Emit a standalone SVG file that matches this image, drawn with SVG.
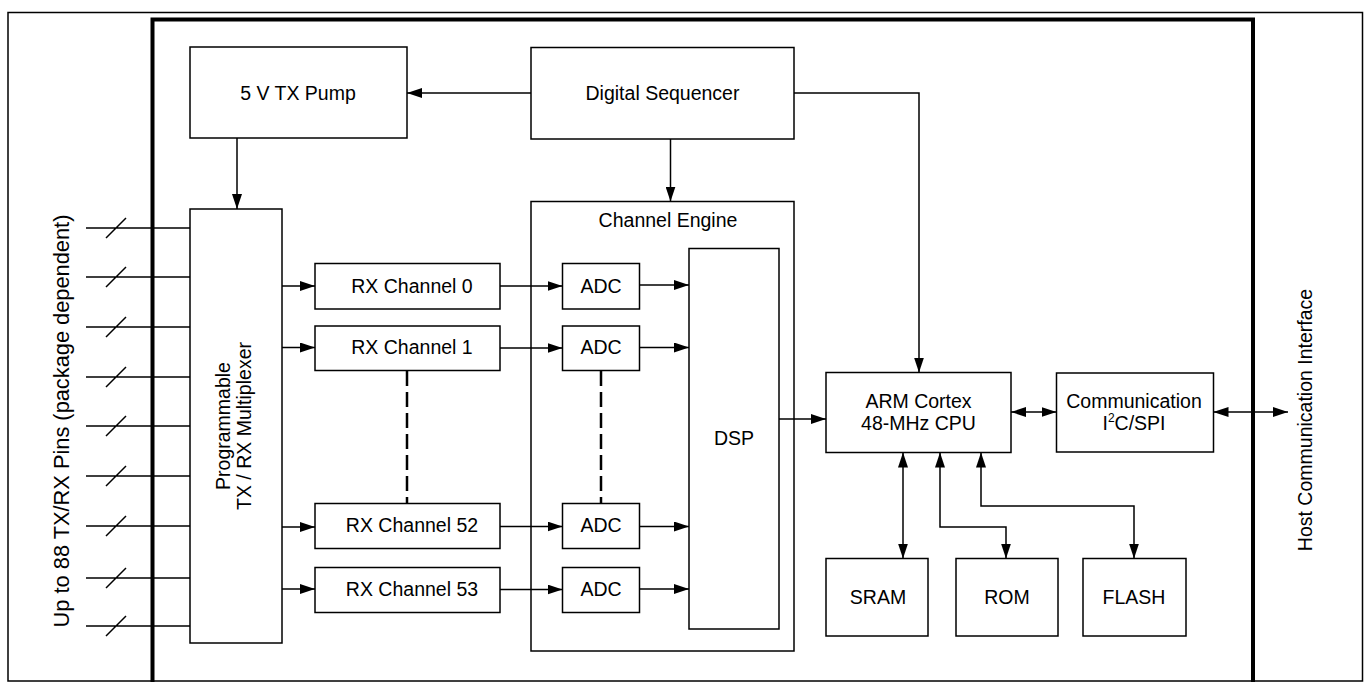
<svg xmlns="http://www.w3.org/2000/svg" width="1369" height="682" viewBox="0 0 1369 682">
<style>
.box{fill:#fff;stroke:#000;stroke-width:1.5}
.ln{fill:none;stroke:#000;stroke-width:1.5}
.dash{fill:none;stroke:#000;stroke-width:2.5;stroke-dasharray:15 6}
.t{font-family:"Liberation Sans",Arial,sans-serif;font-size:19.5px;fill:#000;text-anchor:middle}
.big{font-size:21.8px}
</style>
<defs>
<marker id="ah" viewBox="0 0 15 10" refX="15" refY="5" markerWidth="15" markerHeight="10" markerUnits="userSpaceOnUse" orient="auto-start-reverse">
<path d="M0,0 L15,5 L0,10 Z" fill="#000"/>
</marker>
</defs>
<rect x="8" y="12.5" width="1354.5" height="668.5" fill="#fff" stroke="#000" stroke-width="1.5"/>
<rect x="152.5" y="19.5" width="1100.5" height="700" fill="none" stroke="#000" stroke-width="4"/>

<g id="pins">
<g class="ln">
<path d="M86,228H190M106,238L126,218"/>
<path d="M86,277H190M106,287L126,267"/>
<path d="M86,327H190M106,337L126,317"/>
<path d="M86,377H190M106,387L126,367"/>
<path d="M86,426H190M106,436L126,416"/>
<path d="M86,476H190M106,486L126,466"/>
<path d="M86,526H190M106,536L126,516"/>
<path d="M86,578H190M106,588L126,568"/>
<path d="M86,626H190M106,636L126,616"/>
</g>
<text class="t big" transform="translate(69,421) rotate(-90)">Up to 88 TX/RX Pins (package dependent)</text>
</g>

<g id="tx-pump"><rect class="box" x="190" y="47" width="217" height="91"/><text class="t" x="298" y="100">5 V TX Pump</text></g>
<g id="digital-sequencer"><rect class="box" x="531" y="47.5" width="263" height="91.5"/><text class="t" x="662.5" y="100">Digital Sequencer</text></g>
<g id="mux"><rect class="box" x="190" y="209" width="92" height="434"/>
<text class="t" transform="translate(230,426) rotate(-90)">Programmable</text>
<text class="t" transform="translate(251,426) rotate(-90)">TX / RX Multiplexer</text></g>
<g id="channel-engine"><rect class="box" x="531" y="201.5" width="263" height="449.5"/><text class="t" x="668" y="227">Channel Engine</text></g>
<g id="rx0"><rect class="box" x="315" y="263.5" width="185" height="45.5"/><text class="t" x="412" y="292.5">RX Channel 0</text></g>
<g id="rx1"><rect class="box" x="315" y="326" width="185" height="44.5"/><text class="t" x="412" y="353.5">RX Channel 1</text></g>
<g id="rx52"><rect class="box" x="315" y="503.5" width="185" height="45"/><text class="t" x="412" y="532">RX Channel 52</text></g>
<g id="rx53"><rect class="box" x="315" y="567.5" width="185" height="45"/><text class="t" x="412" y="596">RX Channel 53</text></g>
<g id="adc0"><rect class="box" x="562.5" y="263.5" width="77" height="45.5"/><text class="t" x="601" y="292.5">ADC</text></g>
<g id="adc1"><rect class="box" x="562.5" y="326" width="77" height="44.5"/><text class="t" x="601" y="353.5">ADC</text></g>
<g id="adc52"><rect class="box" x="562.5" y="503.5" width="77" height="45"/><text class="t" x="601" y="532">ADC</text></g>
<g id="adc53"><rect class="box" x="562.5" y="567.5" width="77" height="45"/><text class="t" x="601" y="596">ADC</text></g>
<g id="dsp"><rect class="box" x="689" y="248.5" width="90" height="380.5"/><text class="t" x="734" y="445">DSP</text></g>
<g id="cpu"><rect class="box" x="826" y="372.5" width="185" height="80"/><text class="t" x="918.5" y="407.5">ARM Cortex</text><text class="t" x="918.5" y="430">48-MHz CPU</text></g>
<g id="comm"><rect class="box" x="1056.5" y="373" width="157" height="79"/><text class="t" x="1134" y="407.5">Communication</text><text class="t" x="1134" y="430">I<tspan font-size="12" dy="-8">2</tspan><tspan dy="8">C/SPI</tspan></text></g>
<g id="sram"><rect class="box" x="826" y="558.5" width="102" height="77.5"/><text class="t" x="878" y="603.5">SRAM</text></g>
<g id="rom"><rect class="box" x="956" y="558.5" width="102" height="77.5"/><text class="t" x="1007" y="603.5">ROM</text></g>
<g id="flash"><rect class="box" x="1083" y="558.5" width="103" height="77.5"/><text class="t" x="1134" y="603.5">FLASH</text></g>
<g id="host-label"><text class="t" transform="translate(1312,420) rotate(-90)">Host Communication Interface</text></g>

<g id="connectors">
<g class="ln">
<path d="M531,93H407" marker-end="url(#ah)"/>
<path d="M794,93H919V372.5" marker-end="url(#ah)"/>
<path d="M670.5,139V201.5" marker-end="url(#ah)"/>
<path d="M237,138V209" marker-end="url(#ah)"/>
<path d="M282,286H315" marker-end="url(#ah)"/>
<path d="M282,347.5H315" marker-end="url(#ah)"/>
<path d="M282,527H315" marker-end="url(#ah)"/>
<path d="M282,589H315" marker-end="url(#ah)"/>
<path d="M500,286H562.5" marker-end="url(#ah)"/>
<path d="M500,348H562.5" marker-end="url(#ah)"/>
<path d="M500,526.5H562.5" marker-end="url(#ah)"/>
<path d="M500,589.5H562.5" marker-end="url(#ah)"/>
<path d="M639.5,285H689" marker-end="url(#ah)"/>
<path d="M639.5,347.5H689" marker-end="url(#ah)"/>
<path d="M639.5,526.5H689" marker-end="url(#ah)"/>
<path d="M639.5,589H689" marker-end="url(#ah)"/>
<path d="M779,419H826" marker-end="url(#ah)"/>
<path d="M1011,412H1056.5" marker-start="url(#ah)" marker-end="url(#ah)"/>
<path d="M1213.5,412H1288" marker-start="url(#ah)" marker-end="url(#ah)"/>
<path d="M903,452.5V558.5" marker-start="url(#ah)" marker-end="url(#ah)"/>
<path d="M940,452.5V527H1006V558.5" marker-start="url(#ah)" marker-end="url(#ah)"/>
<path d="M981,452.5V506H1134V558.5" marker-start="url(#ah)" marker-end="url(#ah)"/>
</g>
<path class="dash" d="M407,371V503.5"/>
<path class="dash" d="M601,371V503.5"/>
</g>
</svg>
